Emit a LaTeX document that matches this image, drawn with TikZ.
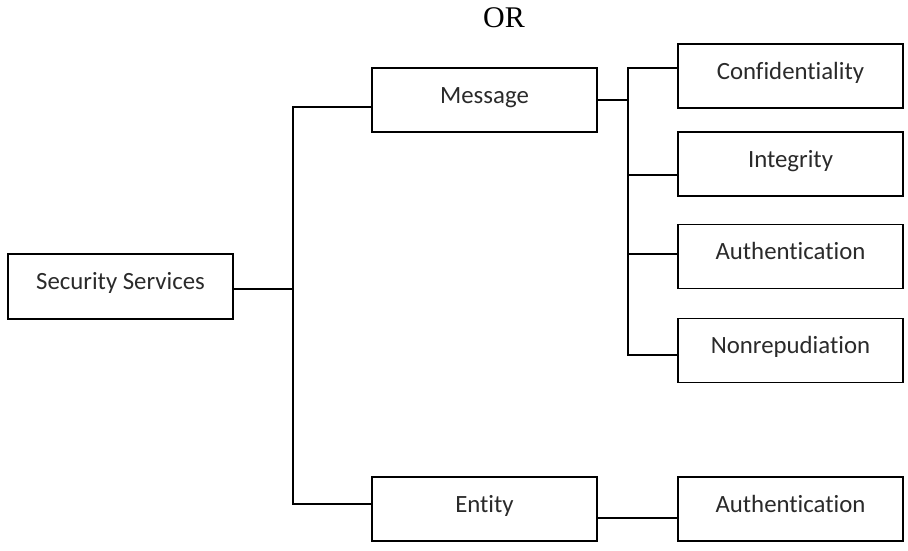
\documentclass[tikz,border=0pt]{standalone}
\usepackage{fontspec}
\setmainfont[Ligatures=NoCommon]{Carlito}
\newfontfamily\orfont{Liberation Serif}
\definecolor{labelgray}{HTML}{2A2A2A}
\tikzset{
  svcbox/.style={draw=black, line width=1.6pt, fill=white, inner sep=0pt,
    minimum width=225pt, minimum height=64pt, text=labelgray,
    text height=16pt, text depth=10pt,
    font=\fontsize{24.8pt}{28pt}\selectfont},
  link/.style={draw=black, line width=1.6pt}
}
\begin{document}
\begin{tikzpicture}[x=1pt,y=-1pt]
  % page frame
  \useasboundingbox (0,0) rectangle (908,550);
  \fill[white] (0,0) rectangle (908,550);

  % heading
  \node[anchor=base, inner sep=0pt, font=\orfont\fontsize{30pt}{34pt}\selectfont] (or) at (504,27) {OR};

  % boxes
  \node[svcbox, minimum height=65pt] (ss) at (120.5,286.5) {Security Services};
  \node[svcbox] (msg) at (484.5,100) {Message};
  \node[svcbox] (ent) at (484.5,509) {Entity};
  \node[svcbox] (conf) at (790.5,76) {Confidentiality};
  \node[svcbox] (integ) at (790.5,164) {Integrity};
  \node[svcbox] (auth) at (790.5,256.5) {Authentication};
  \node[svcbox] (nonrep) at (790.5,350.5) {Nonrepudiation};
  \node[svcbox] (auth2) at (790.5,509) {Authentication};

  % junction points of the trunk lines
  \coordinate (ssout) at (293,289);
  \coordinate (ttop) at (293,107);
  \coordinate (tbot) at (293,504);
  \coordinate (btop) at (628,68);
  \coordinate (bint) at (628,175);
  \coordinate (baut) at (628,254);
  \coordinate (bbot) at (628,355);
  \coordinate (bmsg) at (628,100);
  \coordinate (eout) at (628,518);

  % security services trunk
  \draw[link] (ssout -| ss.east) -- (ssout);
  \draw[link] (ttop -| msg.west) -- (ttop) -- (tbot) -- (tbot -| ent.west);

  % message branch
  \draw[link] (bmsg -| msg.east) -- (bmsg);
  \draw[link] (btop -| conf.west) -- (btop) -- (bbot) -- (bbot -| nonrep.west);
  \draw[link] (bint) -- (bint -| integ.west);
  \draw[link] (baut) -- (baut -| auth.west);

  % entity branch
  \draw[link] (eout -| ent.east) -- (eout -| auth2.west);
\end{tikzpicture}
\end{document}
